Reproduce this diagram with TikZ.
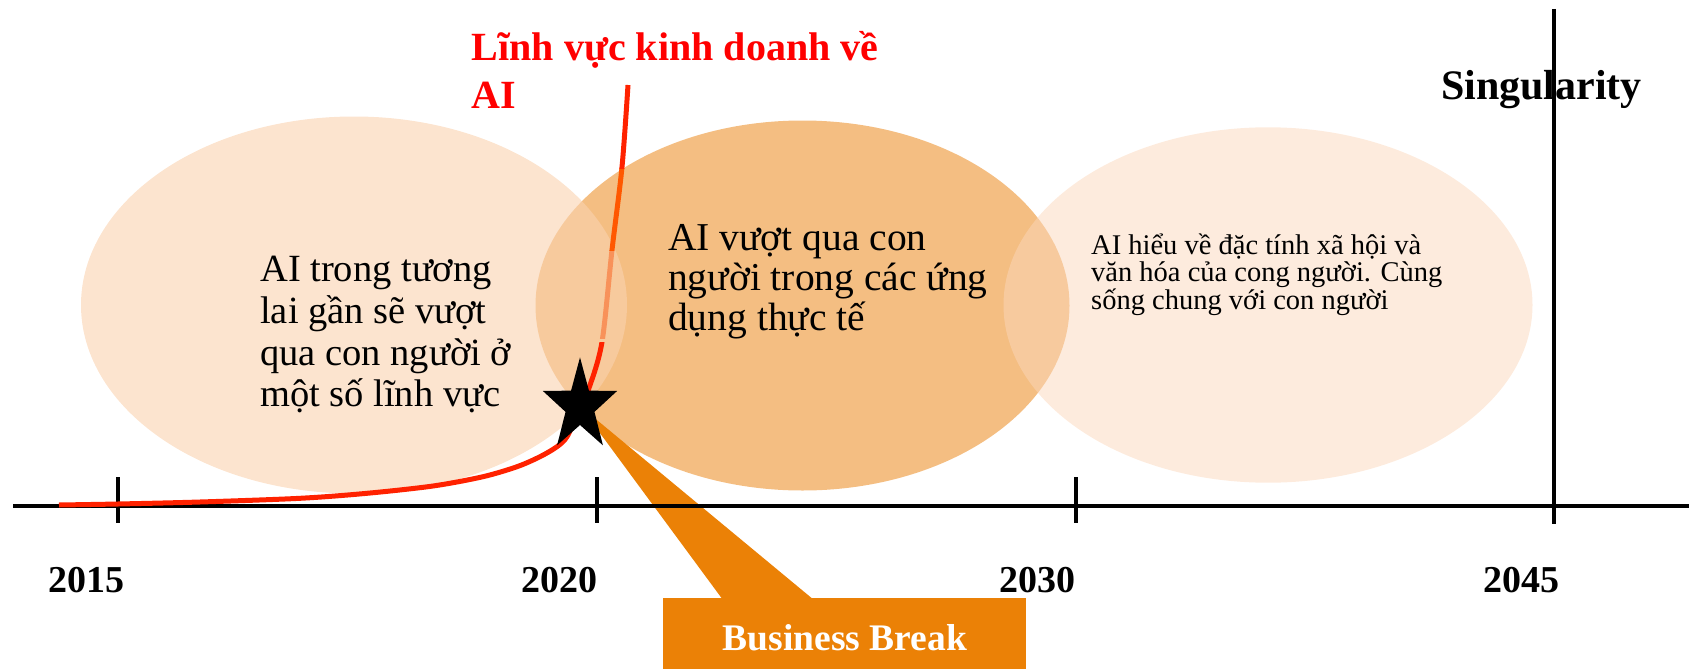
\documentclass[tikz,border=0pt]{standalone}
\usepackage{fontspec}
\setmainfont{Liberation Serif}
\definecolor{midfill}{RGB}{244,190,130}
\definecolor{leftfill}{RGB}{250,210,175}
\definecolor{rightfill}{RGB}{251,215,187}
\definecolor{curvered}{RGB}{255,34,0}
\definecolor{curveorange}{RGB}{255,88,0}
\definecolor{curvelight}{RGB}{248,146,90}
\definecolor{bborange}{RGB}{235,129,6}
\definecolor{titlered}{RGB}{255,0,0}
\newcommand\stacklines[1]{\vtop{\lineskiplimit=-100pt\lineskip=0pt #1}}
\begin{document}
\begin{tikzpicture}[x=1pt,y=1pt,
  axisline/.style={line width=4.5pt, black},
  yearlabel/.style={anchor=base east, inner sep=0pt, font=\fontsize{38}{46}\selectfont\bfseries},
  bubbletext/.style={anchor=base west, inner sep=0pt},
  curvestroke/.style={line width=5pt, line join=round},
]
\useasboundingbox (0,0) rectangle (1689,-669);

% ellipses
\fill[midfill] (802.5,-305.5) ellipse [x radius=267, y radius=185];
\fill[leftfill, fill opacity=0.6] (354,-305) ellipse [x radius=273, y radius=188.5];
\fill[rightfill, fill opacity=0.5] (1268,-305) ellipse [x radius=264.5, y radius=177.7];

% callout
\coordinate (star) at (580,-406);
\node[fill=bborange, minimum width=363pt, minimum height=71pt, inner sep=0pt, anchor=north west] (bbox) at (663,-598) {};
\fill[bborange] ([xshift=60pt,yshift=-2pt]bbox.north west) -- (star) -- ([xshift=151pt,yshift=-2pt]bbox.north west) -- cycle;
\node[anchor=base, inner sep=0pt, text=white, font=\fontsize{37.5}{45}\selectfont\bfseries] (bbtext) at (845,-650) {Business Break};

% axis
\coordinate (axL) at (13,-506);
\coordinate (axR) at (1689,-506);
\draw[axisline] (axL) -- (axR);
\foreach \x in {118,597,1076} \draw[axisline] (\x,-477) -- (\x,-523);

% growth curve
\begin{scope}
\clip (0,-342) rectangle (1689,-669);
\draw[curvestroke, curvered] plot[smooth] coordinates {(59,-505) (118,-504) (200,-502) (300,-498.3) (367,-493.3) (433,-486) (483,-476.7) (517,-466.7) (540,-456.7) (557,-446.7) (567,-436.7) (577,-415) (589,-388) (602,-342) (612,-250) (622,-167) (628,-85)};
\end{scope}
\begin{scope}
\clip (0,-250) rectangle (1689,-338);
\draw[curvestroke, curvelight] plot[smooth] coordinates {(59,-505) (118,-504) (200,-502) (300,-498.3) (367,-493.3) (433,-486) (483,-476.7) (517,-466.7) (540,-456.7) (557,-446.7) (567,-436.7) (577,-415) (589,-388) (602,-342) (612,-250) (622,-167) (628,-85)};
\end{scope}
\begin{scope}
\clip (0,-168) rectangle (1689,-250);
\draw[curvestroke, curveorange] plot[smooth] coordinates {(59,-505) (118,-504) (200,-502) (300,-498.3) (367,-493.3) (433,-486) (483,-476.7) (517,-466.7) (540,-456.7) (557,-446.7) (567,-436.7) (577,-415) (589,-388) (602,-342) (612,-250) (622,-167) (628,-85)};
\end{scope}
\begin{scope}
\clip (0,0) rectangle (1689,-168);
\draw[curvestroke, curvered] plot[smooth] coordinates {(59,-505) (118,-504) (200,-502) (300,-498.3) (367,-493.3) (433,-486) (483,-476.7) (517,-466.7) (540,-456.7) (557,-446.7) (567,-436.7) (577,-415) (589,-388) (602,-342) (612,-250) (622,-167) (628,-85)};
\end{scope}

% star
\fill[black, shift={(star)}] (90:39 and 48.6) -- (126:15.2 and 19) -- (162:39 and 48.6) -- (198:15.2 and 19) -- (234:39 and 48.6) -- (270:15.2 and 19) -- (306:39 and 48.6) -- (342:15.2 and 19) -- (18:39 and 48.6) -- (54:15.2 and 19) -- cycle;

% year labels
\node[yearlabel] (y2015) at (125,-592) {2015};
\node[yearlabel] (y2020) at (598,-592) {2020};
\node[yearlabel] (y2030) at (1076,-592) {2030};
\node[yearlabel] (y2045) at (1560,-592) {2045};

% texts
\node[bubbletext, font=\fontsize{38.5}{41.7}\selectfont] (lefttext) at (260,-281.7)
  {\stacklines{\hbox{AI trong tương}\hbox{lai gần sẽ vượt}\hbox{qua con người ở}\hbox{một số lĩnh vực}}};
\node[bubbletext, font=\fontsize{39.5}{40}\selectfont] (midtext) at (668,-250)
  {\stacklines{\hbox{AI vượt qua con}\hbox{người trong các ứng}\hbox{dụng thực tế}}};
\node[bubbletext, font=\fontsize{28.5}{27.7}\selectfont] (righttext) at (1091,-254)
  {\stacklines{\hbox{AI hiểu về đặc tính xã hội và}\hbox{văn hóa của cong người. Cùng}\hbox{sống chung với con người}}};
\node[bubbletext, text=titlered, font=\fontsize{40}{48}\selectfont\bfseries] (title) at (471.7,-60)
  {\stacklines{\hbox{Lĩnh vực kinh doanh về}\hbox{AI}}};
\node[bubbletext, font=\fontsize{42}{50}\selectfont\bfseries] (sing) at (1441,-99.3) {Singularity};

% singularity line
\coordinate (singtop) at (1554,-9);
\coordinate (singbot) at (1554,-524);
\draw[line width=4pt, black] (singtop) -- (singbot);
\end{tikzpicture}
\end{document}
